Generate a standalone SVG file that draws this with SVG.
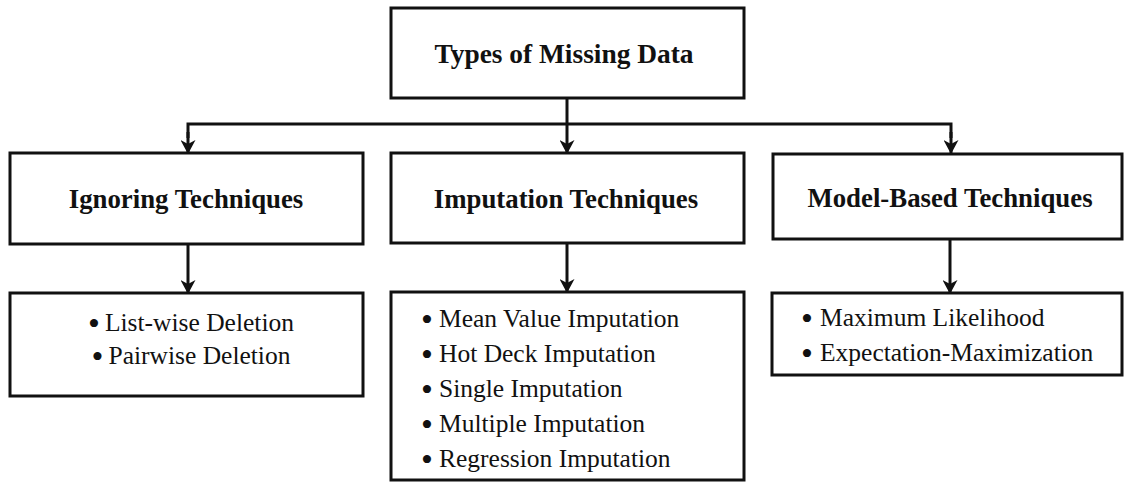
<svg xmlns="http://www.w3.org/2000/svg" width="1124" height="482" viewBox="0 0 1124 482">
  <style>
    .box { fill: #ffffff; stroke: #111111; stroke-width: 3; }
    .line { fill: none; stroke: #111111; stroke-width: 3; }
    .title { font-family: "Liberation Serif", "Times New Roman", serif; font-weight: bold; font-size: 26.8px; fill: #111111; text-anchor: middle; }
    .item { font-family: "Liberation Serif", "Times New Roman", serif; font-size: 25.5px; fill: #111111; }
    .dot { font-size: 34px; }
  </style>
  <defs>
    <!-- arrowhead drawn along +x so orient="auto" turns it with the line -->
    <marker id="arrow" viewBox="0 0 14 15" refX="13" refY="7.5" markerWidth="14" markerHeight="15" markerUnits="userSpaceOnUse" orient="auto">
      <path d="M0,0 L14,7.5 L0,15 L4,7.5 Z" fill="#111111"/>
    </marker>
  </defs>
  <rect width="1124" height="482" fill="#ffffff"/>

  <!-- connectors -->
  <g id="connectors">
    <path class="line" d="M567,98 V124"/>
    <path class="line" d="M188,138 V124 H951 V138"/>
    <path class="line" d="M188,132 V153" marker-end="url(#arrow)"/>
    <path class="line" d="M951,132 V153" marker-end="url(#arrow)"/>
    <path class="line" d="M567,124 V153" marker-end="url(#arrow)"/>
    <path class="line" d="M188,244 V293" marker-end="url(#arrow)"/>
    <path class="line" d="M567,243 V292" marker-end="url(#arrow)"/>
    <path class="line" d="M950,239 V293" marker-end="url(#arrow)"/>
  </g>

  <!-- root -->
  <g id="types-of-missing-data">
    <rect class="box" x="391" y="8" width="353" height="90"/>
    <text class="title" x="564" y="63" style="font-size:27.4px">Types of Missing Data</text>
  </g>

  <!-- second row -->
  <g id="ignoring-techniques">
    <rect class="box" x="10" y="153" width="353" height="91"/>
    <text class="title" x="186" y="208">Ignoring Techniques</text>
  </g>
  <g id="imputation-techniques">
    <rect class="box" x="391" y="153" width="353" height="90"/>
    <text class="title" x="566" y="208">Imputation Techniques</text>
  </g>
  <g id="model-based-techniques">
    <rect class="box" x="773" y="154" width="349" height="85"/>
    <text class="title" x="950" y="207">Model-Based Techniques</text>
  </g>

  <!-- third row; bullets are set larger and dropped a little to sit on the x-height -->
  <g id="ignoring-list">
    <rect class="box" x="10" y="293" width="353" height="103"/>
    <text class="item" x="191" y="331" text-anchor="middle"><tspan class="dot" dy="4">•</tspan><tspan dx="5" dy="-4">List-wise Deletion</tspan></text>
    <text class="item" x="191" y="364" text-anchor="middle"><tspan class="dot" dy="4">•</tspan><tspan dx="5" dy="-4">Pairwise Deletion</tspan></text>
  </g>
  <g id="imputation-list">
    <rect class="box" x="391" y="292" width="353" height="188"/>
    <g class="item">
      <text class="dot" x="421" y="331">•</text><text x="439" y="327">Mean Value Imputation</text>
      <text class="dot" x="421" y="366">•</text><text x="439" y="362">Hot Deck Imputation</text>
      <text class="dot" x="421" y="401">•</text><text x="439" y="397">Single Imputation</text>
      <text class="dot" x="421" y="436">•</text><text x="439" y="432">Multiple Imputation</text>
      <text class="dot" x="421" y="471">•</text><text x="439" y="467">Regression Imputation</text>
    </g>
  </g>
  <g id="model-based-list">
    <rect class="box" x="772" y="293" width="350" height="82"/>
    <g class="item">
      <text class="dot" x="801" y="330">•</text><text x="820" y="326">Maximum Likelihood</text>
      <text class="dot" x="801" y="365">•</text><text x="820" y="361">Expectation-Maximization</text>
    </g>
  </g>
</svg>
